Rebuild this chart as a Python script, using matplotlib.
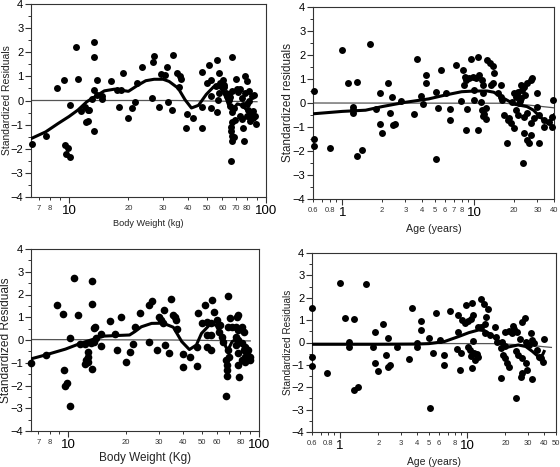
import matplotlib
matplotlib.use('Agg')
import matplotlib.pyplot as plt
from matplotlib.ticker import FixedLocator, FixedFormatter, MultipleLocator

plt.rcParams['font.family'] = ['Liberation Sans', 'DejaVu Sans']

# ---- panel A: residuals vs body weight (top left)
a_weight = [6.5, 7.6, 8.7, 9.4, 11.1, 10.85, 13.4, 13.4, 13.9, 13.3, 13.8, 16.3, 18.8, 23.5,
            22.2, 17.5, 18.3, 14.6, 14.7, 13.0, 10.1, 11.5, 12.0, 12.4, 12.6, 12.2, 12.5, 13.3,
            17.9, 19.8, 20.8, 21.6, 9.55, 9.85, 9.65, 10.1,
            27.0, 26.6, 33.8, 31.3, 29.4, 30.7, 35.5, 36.5, 36.9, 36.3, 26.3, 28.7, 31.8, 33.4,
            39.5, 42.7, 39.3, 47.3, 47.3, 47.3, 51.2, 56.4, 67.4, 57.5, 50, 52.6, 56, 57.7, 58.3,
            60.7, 61.4, 62.7, 63.6, 65.1, 67.2, 71, 73.8, 70.2, 78.2, 80.3, 82.2, 84.9, 86.9,
            52.4, 52.4, 56.6, 57, 65.6, 67.2, 69, 75.5, 76.7, 80, 80.7, 83, 85.5, 87.9, 89, 86.3,
            83, 79.8, 75.5, 76.2, 77.3, 67, 66.2, 66.2, 67, 67.2, 69, 69.8, 66.4, 73.8,
            61, 64.5, 66, 72, 78, 82, 60]
a_resid = [-1.80, -1.47, 0.52, 0.84, 0.88, 2.23, 2.44, 1.81, 0.84, 0.44, 0.24, 0.80, 1.16, 1.38,
           0.73, 0.44, 0.42, 0.17, 0.07, 0.05, -0.17, -0.44, -0.27, -0.41, -0.40, -0.88, -0.84, -1.26,
           -0.25, -0.73, -0.32, -0.07, -1.85, -1.97, -2.23, -2.36,
           1.85, 1.59, 1.88, 1.38, 1.10, 1.07, 1.16, 1.02, 0.91, 0.58, 0.12, -0.27, -0.07, -0.40,
           -0.58, -0.72, -1.13, -1.13, -0.27, 1.19, 1.49, 1.67, 1.82, 1.16, 0.72, 0.86, 0.61, 0.33, 0.72,
           0.86, 0.58, 0.31, 0.17, 0.03, 0.41, 0.47, 0.47, 0.88, 1.02, 0.79, 0.41, 0.17, 0.21,
           0.17, -0.33, -0.46, 0.03, -0.22, -0.46, -0.32, 0.10, -0.18, -0.13, -0.39, -0.50, -0.42, -0.63, -0.97, -0.73,
           -0.87, -0.63, -0.77, -1.14, -1.67, -0.91, -1.08, -1.28, -1.46, -1.67, -1.50, -0.82, -2.52, -0.66,
           0.65, 0.25, 0.15, 0.35, 0.30, 0.0, 0.55]
a_fit_x = [6.4, 7.6, 8.8, 10.0, 11.1, 12.3, 13.6, 15.1, 17, 20, 22.2, 24.5, 27, 30, 32.2, 35.8,
           38.8, 41.8, 45.4, 49.7, 54.2, 57.4, 60, 62.7, 64.5, 67, 69, 71.5, 75.5, 80, 83, 87]
a_fit_y = [-1.58, -1.3, -0.95, -0.66, -0.39, -0.05, 0.17, 0.40, 0.47, 0.38, 0.62, 0.82, 0.88, 0.88, 0.79, 0.51,
           0.03, -0.31, -0.2, 0.25, 0.57, 0.6, 0.45, 0.1, -0.18, -0.4, -0.3, -0.14, -0.2, -0.4, -0.66, -0.77]
a_ref_x = [6.4, 35, 90]
a_ref_y = [0.0, 0.0, -0.05]

# ---- panel B: residuals vs age (top right)
b_age = [0.61, 0.61, 0.61, 0.81, 1.0, 1.10, 1.30, 1.2, 1.2, 1.2, 1.30, 1.41, 1.61, 1.80, 1.93, 1.93,
         2.01, 2.22, 2.39, 2.30, 2.40, 2.5, 2.78, 3.5, 3.66, 4.28, 4.28, 3.97, 4.11,
         5.15, 5.09, 5.55, 5.3, 6.12, 6.48, 6.48, 7.28, 7.94, 8.17, 8.65, 8.75, 8.5, 8.65, 9.17, 9.71,
         10.3, 10.9, 9.44, 10.6, 8.3, 10, 10, 10.6, 11.5, 11.6, 11.6, 11.2, 11.4, 11.9, 12.3, 11.6, 12.2,
         12.5, 13, 13.7, 14.1, 13.7, 13.4, 15.9, 15.0, 15.9, 16.3, 16.8, 17.8, 18.9, 20.0, 17.5,
         20, 20.6, 21.2, 22.4, 23.1, 23.8, 25.1, 26.7, 27.4, 19.4, 21.8, 22.4, 23.8, 25.1, 26.7, 28.3,
         29.9, 30.8, 23.8, 25.1, 26.7, 25.9, 29.9, 30.8, 33.6, 33.6, 36.6, 38.8, 39.5, 23.5, 38.8, 18.3,
         21, 22, 24, 20.5, 21.5]
b_resid = [0.51, -1.50, -1.79, -1.86, 2.22, 0.82, 0.87, -0.18, -0.29, -0.40, -2.22, -1.97, 2.47, -0.24, 0.43, -0.88,
           -1.25, 0.82, 0.26, -0.43, -0.90, -0.86, 0.08, -0.46, 1.82, 1.17, 0.82, 0.29, -0.04,
           -2.33, 0.47, 1.38, -0.22, 0.43, -0.25, -0.71, 1.58, 0.10, 1.38, -1.13, -0.25, 1.10, 0.96, 1.03, 1.10,
           1.03, 1.17, 1.82, 1.90, 0.75, 0.54, 0.12, -1.13, 0.96, 0.75, 0.40, 0.05, -0.30, -0.45, -0.68, -0.55, -0.20,
           1.79, 1.65, 1.54, 1.24, 0.82, 0.75, 0.75, 0.40, 0.26, 0.12, -0.50, -0.71, -0.85, -1.06, -1.68,
           0.40, 0.26, 0.47, 0.75, 0.54, 0.68, 0.82, 0.96, 1.03, 0.05, -0.01, 0.20, -0.57, -0.43, -0.85, -0.64,
           0.40, -1.68, -1.25, -1.54, -1.33, -1.68, -0.15, -0.50, -0.71, -0.99, -0.78, -0.57, 0.12, -2.51, -0.99, -0.64,
           0.30, 0.10, 0.35, -0.30, -0.50]
b_fit_x = [0.6, 1, 1.5, 2, 3, 4.5, 6, 8, 10, 12.5, 14, 16, 20, 25, 28, 31, 34, 36, 38, 40]
b_fit_y = [-0.45, -0.35, -0.3, -0.15, 0.03, 0.17, 0.33, 0.47, 0.5, 0.5, 0.45, 0.25, -0.05, -0.15, -0.3,
           -0.55, -0.75, -0.85, -0.7, -0.5]
b_ref_x = [0.6, 17, 25, 40]
b_ref_y = [0.0, -0.01, -0.08, -0.2]

# ---- panel C: residuals vs body weight (bottom left)
c_weight = [6.4, 7.64, 8.75, 9.38, 10.8, 11.3, 13.4, 13.4, 13.6, 13.9, 10.2, 9.57, 9.84, 9.64, 10.2,
            11.6, 12.2, 12.8, 12.7, 12.4, 12.7, 12.3, 13.3, 13.2, 13.6, 14, 14.9, 14.9, 16.6, 18, 17.6,
            18.9, 20, 21.1, 22, 22.4, 23.8,
            26.7, 27.6, 30.1, 30.6, 31.5, 31.9, 34.5, 35.6, 36.3, 36.7, 37.2, 26.7, 29.1, 32.2, 33.8,
            39.8, 43.5, 39.8, 47.5, 47.5, 48.1, 52.1, 56.5, 50.1, 53.2, 55.8, 58.1, 53.2, 56, 53.2, 56,
            60, 62.5, 62, 63.8, 65, 69, 70.5, 69, 72.3, 75.5, 78, 81, 83.6, 76.7, 78,
            75.5, 78, 81, 83.6, 87.9, 89.8, 84.6, 78, 75.5, 81, 78, 84.6, 87, 90, 84,
            67.2, 67.6, 68, 68, 69.6, 69, 78.8, 67.2]
c_resid = [-1.0, -0.66, 1.55, 1.14, 2.74, 1.10, 2.61, 1.58, 0.51, 0.58, 0.10, -1.32, -1.90, -2.02, -2.90,
           -0.18, -0.18, -0.51, -0.76, -0.88, -0.95, -1.05, -1.27, -0.15, -0.07, 0.07, 0.25, -0.26, 0.85, -0.44, 0.25,
           1.02, -0.95, -0.51, -0.18, 0.56, 1.20,
           1.54, 1.71, 1.0, 0.88, 0.76, 1.32, 1.79, 1.10, 1.02, 0.88, 0.47, -0.07, -0.44, -0.22, -0.56,
           -0.62, -0.76, -1.17, -1.14, -0.30, 1.17, 1.54, 1.76, 0.73, 0.80, 0.73, 1.24, 0.22, 0.22, -0.30, -0.44,
           0.88, 0.66, 0.37, 0.15, -0.07, 1.93, 0.95, 0.58, 0.56, 0.58, 0.44, 0.58, 0.37, 1.02, 1.10,
           0.15, 0.0, -0.15, -0.44, -0.44, -0.73, -0.73, -0.55, -0.22, -0.88, -1.10, -0.95, -0.6, -0.9, -0.3,
           -0.88, -1.10, -1.32, -1.58, -0.73, -0.44, -1.61, -2.46]
c_fit_x = [6.4, 7.6, 9.7, 11.6, 14, 15.3, 18.4, 21, 22.4, 24.2, 27.4, 31.5, 35.6, 39.4, 43.2, 47, 50,
           55.6, 59.5, 63.8, 67.2, 69, 72.3, 76.7, 81, 84, 88]
c_fit_y = [-0.83, -0.66, -0.4, -0.15, 0.07, 0.17, 0.2, 0.22, 0.37, 0.58, 0.73, 0.74, 0.56, -0.07, -0.42,
           -0.22, 0.29, 0.7, 0.66, 0.15, -0.32, -0.42, -0.07, 0.05, -0.1, -0.35, -0.45]
c_ref_x = [6.4, 35, 90]
c_ref_y = [0.02, 0.0, -0.04]

# ---- panel D: residuals vs age (bottom right)
d_age = [0.6, 0.6, 0.6, 0.79, 1.0, 1.09, 1.29, 1.18, 1.18, 1.29, 1.39, 1.59, 1.80, 1.88, 1.88, 1.98,
         2.19, 2.28, 2.40, 2.38, 2.45, 2.78, 3.49, 3.70, 4.31, 4.31, 4.06, 4.06, 5.08, 4.99, 5.4, 5.64,
         6.1, 6.6, 6.6, 7.33, 8.28, 8.96, 8.53, 8.8, 8.53, 9.07, 9.64, 10.1, 10.8, 11.2, 9.77, 11.0,
         10.1, 10.5, 10.8, 11.4, 11.6, 12.1, 11.2, 12.0, 10.9, 12.2, 12.9, 13.9, 14.1, 14.6, 13.5, 12.9,
         13.7, 15.0, 16.5, 16.7, 17.2, 18.3, 18.6, 19.1, 19.8, 20.7, 21.3, 20, 21.3, 22.4, 23.3, 22.8,
         24.8, 25.9, 27.2, 28.5, 31.6, 28.9, 30.5, 32.6, 33.4, 35.7, 36.8, 39.2, 40.3, 38.0, 32.6, 29.8,
         27.2, 26.4, 28.9, 24.3, 24.0, 25.2, 27.2, 18.8, 20]
d_resid = [1.53, -0.66, -1.05, -1.37, 2.67, 1.11, 1.05, 0.04, -0.18, -2.12, -1.97, 2.60, -0.21, 0.46, -0.92, -1.27,
           0.83, -0.55, 0.21, -1.08, -1.01, -0.18, -0.75, 1.56, 0.98, 0.56, 0.0, -0.18, -2.93, 0.22, -0.48, 1.33,
           0.12, -0.55, -1.0, 1.41, -0.30, -0.48, 0.49, -1.22, 1.23, 1.01, 0.89, 0.96, 1.04, 1.23, 1.68, 1.78,
           -0.2, -0.35, -0.6, -0.45, -0.78, -0.65, 0.05, -0.5, -1.15, 0.71, 0.68, 0.83, 1.16, 1.49, 1.71, 1.96,
           0.42, 0.34, 0.68, 0.26, 0.04, -1.60, -0.25, -0.55, -0.70, -0.92, -1.08, 0.49, 0.53, 0.44, 0.59, 0.74,
           0.49, 0.15, 0.93, 1.08, 0.44, 0.04, -0.11, 0.12, -0.04, -0.33, -0.66, -0.86, 0.15, -0.70, -1.64, -1.22,
           -1.37, -1.52, -0.92, -2.49, -0.40, -0.55, -0.70, 0.04, -0.15]
d_fit_x = [0.6, 2, 4, 5, 6.6, 8.5, 10.3, 12.3, 13.7, 15.5, 17.8, 20.7, 25.2, 28.9, 32.6, 36.8, 39.2, 40.3]
d_fit_y = [-0.08, -0.08, -0.07, -0.05, 0.04, 0.26, 0.44, 0.56, 0.53, 0.34, 0.04, -0.21, -0.11, -0.18,
           -0.4, -0.66, -0.55, -0.4]
d_ref_x = [0.6, 17, 30, 46]
d_ref_y = [-0.04, -0.05, -0.12, -0.22]

W, H = 560, 467
fig = plt.figure(figsize=(W / 100, H / 100), dpi=100)


def make_axes(l, r, t, b):
    return fig.add_axes([l / W, 1 - b / H, (r - l) / W, (b - t) / H])


def style(ax, xlim, major, minor, minor_labels, xlabel, ylabel, xl_size, yl_size):
    ax.set_xscale('log')
    ax.set_xlim(*xlim)
    ax.set_ylim(-4, 4)
    ax.xaxis.set_major_locator(FixedLocator(major))
    ax.xaxis.set_major_formatter(FixedFormatter([('%g' % v) for v in major]))
    ax.xaxis.set_minor_locator(FixedLocator(minor))
    ax.xaxis.set_minor_formatter(FixedFormatter(minor_labels))
    ax.yaxis.set_major_locator(MultipleLocator(1))
    ax.yaxis.set_minor_locator(MultipleLocator(0.5))
    ax.tick_params(axis='both', which='major', direction='out', length=4, width=0.8,
                   color='#333333', labelsize=8, pad=1.5)
    ax.tick_params(axis='x', which='major', labelsize=9.5, pad=2)
    ax.tick_params(axis='x', which='minor', direction='out', length=2.5, width=0.7,
                   color='#333333', labelsize=5.5, pad=3.5, labelcolor='#333333')
    ax.tick_params(axis='y', which='minor', direction='out', length=2.5, width=0.7, color='#333333')
    for s in ax.spines.values():
        s.set_color('#333333')
        s.set_linewidth(0.8)
    ax.set_xlabel(xlabel, fontsize=xl_size, color='#222222')
    ax.set_ylabel(ylabel, fontsize=yl_size, color='#222222')


def draw(ax, x, y, fx, fy, rx, ry, ms):
    ax.plot(x, y, 'o', color='black', markersize=ms, markeredgewidth=0, zorder=3, clip_on=False)
    ax.plot(rx, ry, '-', color='#555555', lw=0.9, zorder=2)
    ax.plot(fx, fy, '-', color='black', lw=2.2, zorder=4)


# top left
ax1 = make_axes(31, 266, 4, 197)
draw(ax1, a_weight, a_resid, a_fit_x, a_fit_y, a_ref_x, a_ref_y, 5.0)
style(ax1, (6.4, 100), [10, 100], [7, 8, 9, 20, 30, 40, 50, 60, 70, 80, 90],
      ['7', '8', '', '20', '30', '40', '50', '60', '70', '80', ''],
      'Body Weight (kg)', 'Standardized Residuals', 6.6, 7.5)
ax1.xaxis.set_label_coords(0.5, -26 / 193)
ax1.yaxis.set_label_coords(-24 / 235, 0.5)

# top right
ax2 = make_axes(313, 554, 7, 199)
draw(ax2, b_age, b_resid, b_fit_x, b_fit_y, b_ref_x, b_ref_y, 5.0)
style(ax2, (0.6, 40), [1, 10], [0.6, 0.7, 0.8, 0.9, 2, 3, 4, 5, 6, 7, 8, 9, 20, 30, 40],
      ['0.6', '', '0.8', '', '2', '3', '4', '5', '6', '7', '8', '', '20', '30', '40'],
      'Age (years)', 'Standardized residuals', 7.7, 8.4)
ax2.xaxis.set_label_coords(0.5, -30 / 192)
ax2.yaxis.set_label_coords(-25 / 241, 0.5)

# bottom left
ax3 = make_axes(31, 259, 249, 431)
draw(ax3, c_weight, c_resid, c_fit_x, c_fit_y, c_ref_x, c_ref_y, 5.5)
style(ax3, (6.4, 100), [10, 100], [7, 8, 9, 20, 30, 40, 50, 60, 70, 80, 90],
      ['7', '8', '', '20', '30', '40', '50', '60', '', '80', ''],
      'Body Weight (Kg)', 'Standardized Residuals', 8.5, 8.6)
ax3.xaxis.set_label_coords(0.5, -27 / 182)
ax3.yaxis.set_label_coords(-25 / 228, 0.5)

# bottom right
ax4 = make_axes(312, 556, 253, 432)
draw(ax4, d_age, d_resid, d_fit_x, d_fit_y, d_ref_x, d_ref_y, 5.0)
style(ax4, (0.6, 50), [1, 10], [0.6, 0.7, 0.8, 0.9, 2, 3, 4, 5, 6, 7, 8, 9, 20, 30, 40, 50],
      ['0.6', '', '0.8', '', '2', '3', '4', '5', '6', '', '8', '', '20', '30', '40', '50'],
      'Age (years)', 'Standardized Residuals', 7.5, 7.2)
ax4.xaxis.set_label_coords(0.5, -30 / 179)
ax4.yaxis.set_label_coords(-24 / 244, 0.5)

for ax in (ax1, ax2, ax3, ax4):
    ax.xaxis.label.set_va('center')
    ax.yaxis.label.set_va('center')

fig.savefig('out.png', dpi=100)
